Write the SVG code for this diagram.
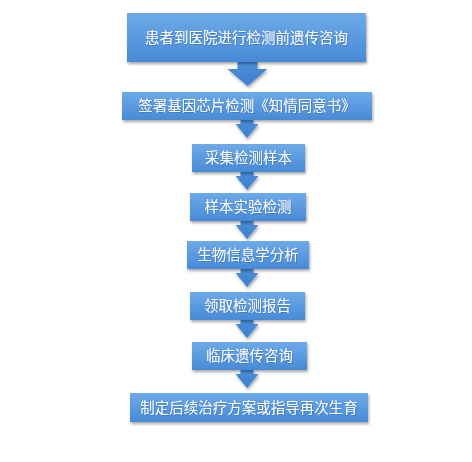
<svg xmlns="http://www.w3.org/2000/svg" width="472" height="462" viewBox="0 0 472 462">
<defs>
<linearGradient id="g" x1="0" y1="0" x2="0" y2="1">
<stop offset="0" stop-color="#6eaae8"/>
<stop offset="1" stop-color="#478ad7"/>
</linearGradient>
<linearGradient id="ga" x1="0" y1="0" x2="0" y2="1">
<stop offset="0" stop-color="#4a8fd9"/>
<stop offset="1" stop-color="#3c80d0"/>
</linearGradient>
<filter id="sh" x="-10%" y="-20%" width="120%" height="160%">
<feDropShadow dx="1" dy="2" stdDeviation="1.5" flood-color="#000" flood-opacity="0.35"/>
</filter>
<filter id="ts" x="-5%" y="-20%" width="110%" height="140%">
<feDropShadow dx="0.5" dy="0.5" stdDeviation="0.5" flood-color="#1c4f8f" flood-opacity="0.6"/>
</filter>
</defs>
<style>
.box{fill:url(#g);filter:url(#sh);}
.t{font-family:"Noto Sans CJK SC","Noto Sans CJK JP",sans-serif;font-size:14.5px;fill:#fff;text-anchor:middle;filter:url(#ts);}
.arr{fill:url(#ga);filter:url(#sh);}
</style>
<rect width="472" height="462" fill="#fff"/>
<g id="connectors">
<path class="arr" d="M237.5,62 H257.5 V69 H267.5 L247.5,86 L227.5,69 H237.5 Z"/>
<path class="arr" d="M240.5,120 H253.5 V124 H258.5 L247,138 L235.5,124 H240.5 Z"/>
<path class="arr" d="M240.5,172 H253.5 V176 H258.5 L247,190 L235.5,176 H240.5 Z"/>
<path class="arr" d="M240.5,221 H253.5 V225 H258.5 L247,239 L235.5,225 H240.5 Z"/>
<path class="arr" d="M240.5,269 H253.5 V273 H258.5 L247,287 L235.5,273 H240.5 Z"/>
<path class="arr" d="M240.5,320 H253.5 V324 H258.5 L247,338 L235.5,324 H240.5 Z"/>
<path class="arr" d="M240.5,370 H253.5 V374 H258.5 L247,388 L235.5,374 H240.5 Z"/>
</g>
<g id="n1"><rect class="box" x="127" y="13" width="239" height="49"/><text class="t" x="246.5" y="43">患者到医院进行检测前遗传咨询</text></g>
<g id="n2"><rect class="box" x="122" y="92" width="250" height="28"/><text class="t" x="247" y="111">签署基因芯片检测《知情同意书》</text></g>
<g id="n3"><rect class="box" x="192" y="144" width="113" height="28"/><text class="t" x="248.5" y="163">采集检测样本</text></g>
<g id="n4"><rect class="box" x="190" y="193" width="116" height="28"/><text class="t" x="248" y="212">样本实验检测</text></g>
<g id="n5"><rect class="box" x="187" y="241" width="122" height="28"/><text class="t" x="248" y="260">生物信息学分析</text></g>
<g id="n6"><rect class="box" x="190" y="292" width="115" height="28"/><text class="t" x="247.5" y="311">领取检测报告</text></g>
<g id="n7"><rect class="box" x="192" y="342" width="115" height="28"/><text class="t" x="249.5" y="361">临床遗传咨询</text></g>
<g id="n8"><rect class="box" x="130" y="393" width="238" height="29"/><text class="t" x="249" y="412.5">制定后续治疗方案或指导再次生育</text></g>
</svg>
